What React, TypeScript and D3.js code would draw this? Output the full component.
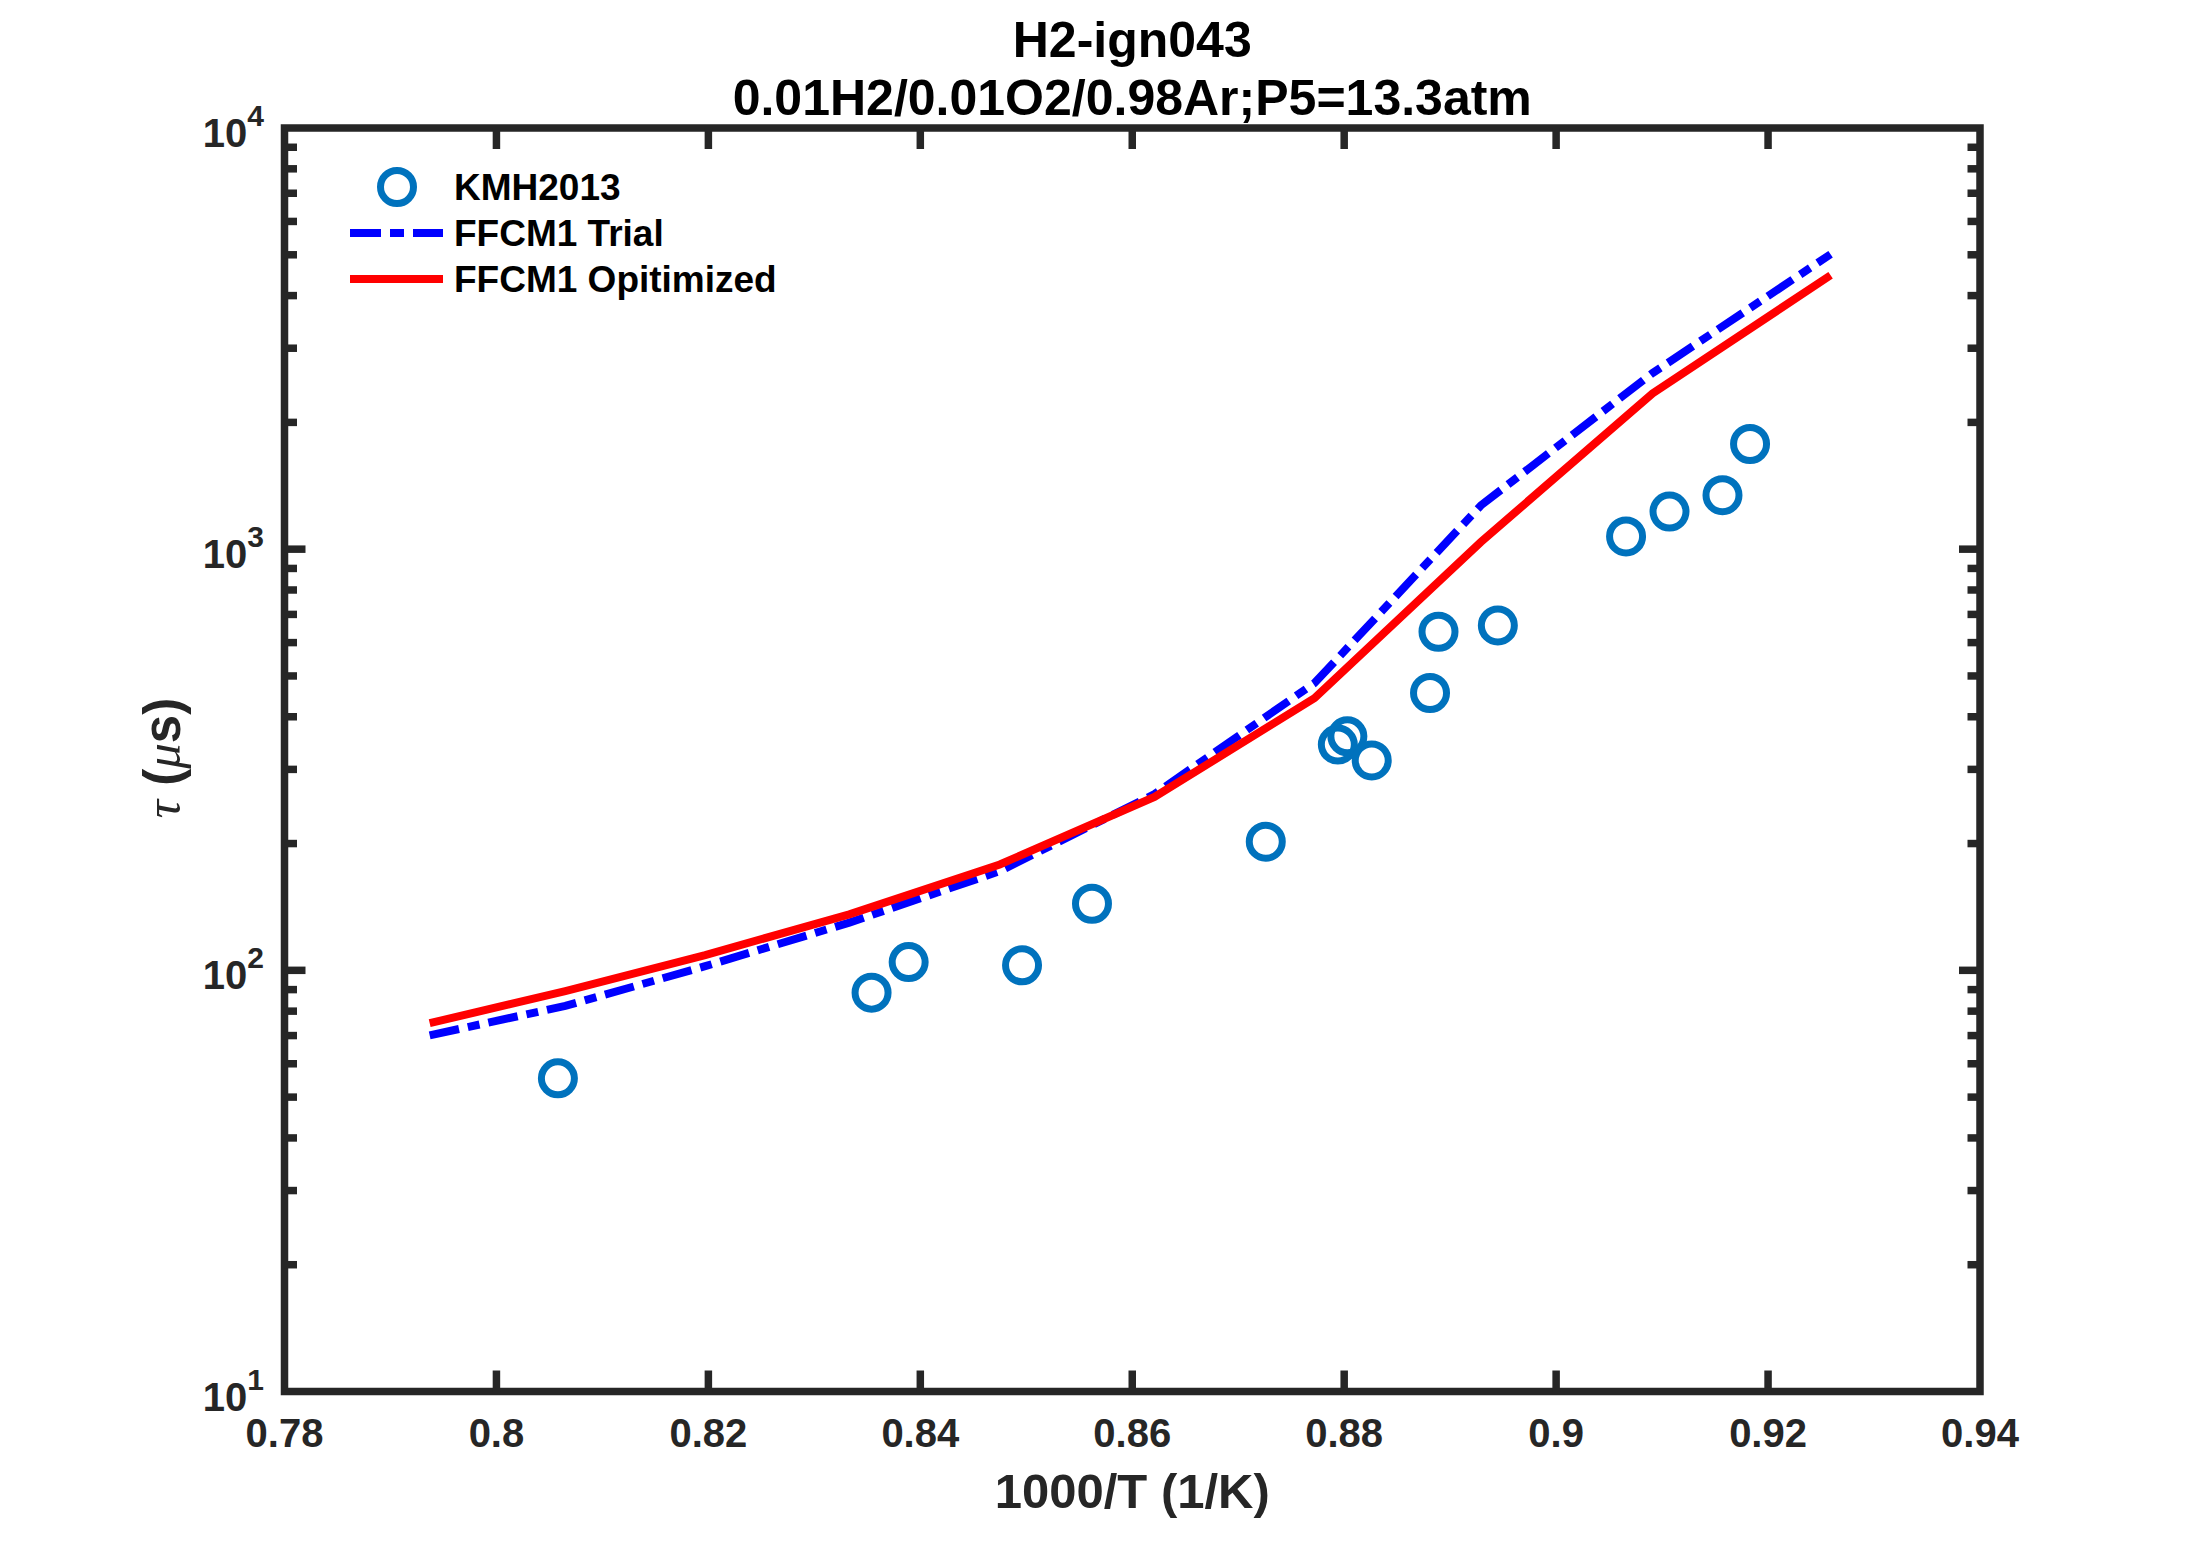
import * as d3 from 'd3';

// KMH2013 shock-tube data
const expX = [0.8058, 0.8354, 0.8389, 0.8496, 0.8562, 0.8726, 0.8794, 0.8803, 0.8826, 0.8881, 0.8889, 0.8945, 0.9066, 0.9107, 0.9157, 0.9183];
const expTau = [55.4, 88.5, 104.6, 102.8, 143.9, 202, 343.6, 359.4, 315, 455.5, 636.7, 659, 1072, 1228, 1343, 1777];

// model curves
const modelX = [0.7937, 0.8065, 0.8197, 0.8333, 0.8475, 0.8621, 0.8772, 0.8929, 0.9091, 0.9259];
const trialTau = [70.1, 82.3, 102.3, 129.8, 172, 262, 481, 1270, 2619, 5015];
const optTau = [74.9, 89.3, 108.7, 135.8, 178.4, 258, 443, 1040, 2344, 4470];

const xTicks = [0.78, 0.8, 0.82, 0.84, 0.86, 0.88, 0.9, 0.92, 0.94];
const xTickLabels = ['0.78', '0.8', '0.82', '0.84', '0.86', '0.88', '0.9', '0.92', '0.94'];
const yTicks = [10, 100, 1000, 10000];
const yTickExp = ['1', '2', '3', '4'];

const legendLabels = ['KMH2013', 'FFCM1 Trial', 'FFCM1 Opitimized'];

const W = 2187;
const H = 1563;
const pL = 284.5;
const pR = 1980;
const pT = 128;
const pB = 1391.5;

const axisColor = '#262626';
const sans = '"Liberation Sans", Arial, Helvetica, sans-serif';
const serif = '"Liberation Serif", "DejaVu Serif", serif';
const lw = 7.5;

export default function App() {
    const x = d3.scaleLinear().domain([0.78, 0.94]).range([pL, pR]);
    const y = d3.scaleLog().domain([10, 10000]).range([pB, pT]);

    const line = d3.line<number>()
        .x((_, i) => x(modelX[i]))
        .y(d => y(d));

    // minor log ticks (2..9 in each decade)
    const minorTicks = y.ticks().filter(t => !yTicks.includes(t));
    const cx = (pL + pR) / 2;

    return (
        <svg width={W} height={H} style={{ position: 'absolute', left: 0, top: 0, background: '#fff' }}>
            <rect x={0} y={0} width={W} height={H} fill="#fff" />

            {/* title */}
            <text x={cx} y={57} textAnchor="middle" fontFamily={sans} fontWeight="bold" fontSize={50} fill="#000">H2-ign043</text>
            <text x={cx} y={115} textAnchor="middle" fontFamily={sans} fontWeight="bold" fontSize={50} fill="#000">0.01H2/0.01O2/0.98Ar;P5=13.3atm</text>

            {/* model lines */}
            <path d={line(trialTau) || ''} fill="none" stroke="#0000ff" strokeWidth={8} strokeDasharray="30 9 12 9" />
            <path d={line(optTau) || ''} fill="none" stroke="#ff0000" strokeWidth={8} />

            {/* experiments */}
            {expX.map((v, i) => (
                <circle key={i} cx={x(v)} cy={y(expTau[i])} r={16.5} fill="none" stroke="#0072bd" strokeWidth={7} />
            ))}

            {/* frame */}
            <rect x={pL} y={pT} width={pR - pL} height={pB - pT} fill="none" stroke={axisColor} strokeWidth={lw} />

            {/* x ticks top and bottom */}
            {xTicks.slice(1, -1).map((t, i) => (
                <g key={'xt' + i}>
                    <line x1={x(t)} x2={x(t)} y1={pB} y2={pB - 21} stroke={axisColor} strokeWidth={lw} />
                    <line x1={x(t)} x2={x(t)} y1={pT} y2={pT + 21} stroke={axisColor} strokeWidth={lw} />
                </g>
            ))}
            {xTicks.map((t, i) => (
                <text key={'xl' + i} x={x(t)} y={1447} textAnchor="middle" fontFamily={sans} fontWeight="bold" fontSize={40} fill={axisColor}>{xTickLabels[i]}</text>
            ))}

            {/* y ticks left and right */}
            {yTicks.slice(1, -1).map((t, i) => (
                <g key={'yt' + i}>
                    <line x1={pL} x2={pL + 21} y1={y(t)} y2={y(t)} stroke={axisColor} strokeWidth={lw} />
                    <line x1={pR} x2={pR - 21} y1={y(t)} y2={y(t)} stroke={axisColor} strokeWidth={lw} />
                </g>
            ))}
            {minorTicks.map((t, i) => (
                <g key={'ym' + i}>
                    <line x1={pL} x2={pL + 12.5} y1={y(t)} y2={y(t)} stroke={axisColor} strokeWidth={lw} />
                    <line x1={pR} x2={pR - 12.5} y1={y(t)} y2={y(t)} stroke={axisColor} strokeWidth={lw} />
                </g>
            ))}
            {yTicks.map((t, i) => (
                <text key={'yl' + i} x={264} y={y(t) + 19} textAnchor="end" fontFamily={sans} fontWeight="bold" fill={axisColor}>
                    <tspan fontSize={40}>10</tspan>
                    <tspan fontSize={30} dy={-21}>{yTickExp[i]}</tspan>
                </text>
            ))}

            {/* axis labels */}
            <text x={cx} y={1508} textAnchor="middle" fontFamily={sans} fontWeight="bold" fontSize={49} fill={axisColor}>1000/T (1/K)</text>
            <text transform="translate(180,758) rotate(-90)" textAnchor="middle" fontSize={51} fill={axisColor}>
                <tspan fontFamily={serif} fontStyle="italic">τ</tspan>
                <tspan fontFamily={sans} fontWeight="bold"> (</tspan>
                <tspan fontFamily={serif} fontStyle="italic">μ</tspan>
                <tspan fontFamily={sans} fontWeight="bold">s)</tspan>
            </text>

            {/* legend */}
            <circle cx={397} cy={187} r={16.5} fill="none" stroke="#0072bd" strokeWidth={7} />
            <line x1={350} x2={443} y1={233} y2={233} stroke="#0000ff" strokeWidth={8} strokeDasharray="31 9 14 9" />
            <line x1={350} x2={443} y1={279} y2={279} stroke="#ff0000" strokeWidth={8} />
            {legendLabels.map((l, i) => (
                <text key={'lg' + i} x={454} y={200 + i * 46} fontFamily={sans} fontWeight="bold" fontSize={37} fill="#000">{l}</text>
            ))}
        </svg>
    );
}
